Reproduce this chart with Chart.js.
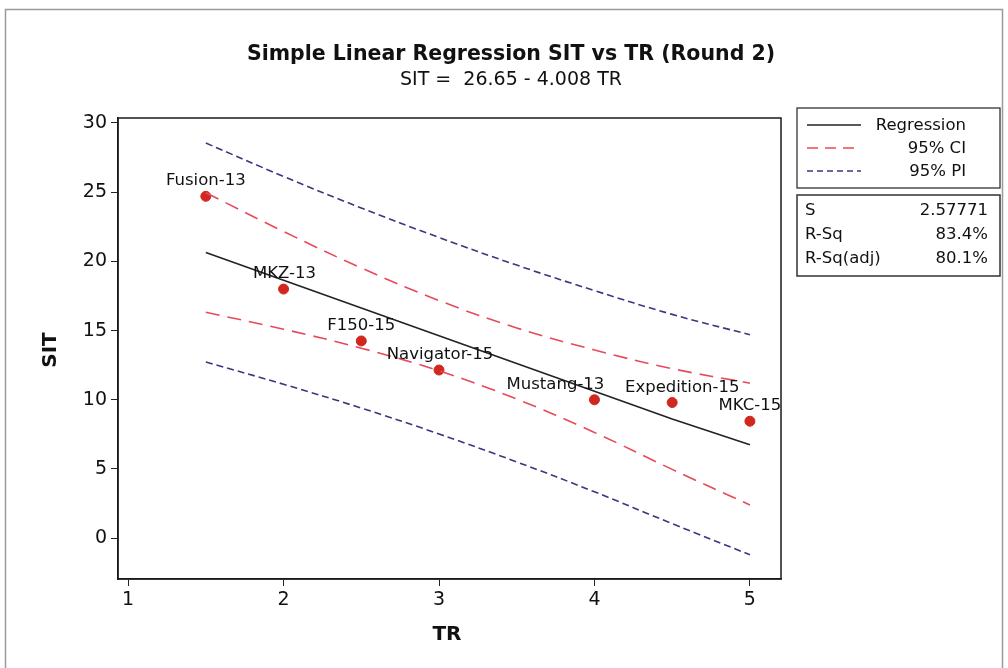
<!DOCTYPE html>
<html>
<head>
<meta charset="utf-8">
<script src="https://cdn.jsdelivr.net/npm/chart.js@4.4.1/dist/chart.umd.min.js"></script>
<style>
  html, body { margin: 0; padding: 0; background: #fff; }
  #wrap { width: 1008px; height: 668px; position: relative; }
</style>
</head>
<body>
<div id="wrap"><canvas id="chart" width="1008" height="668"></canvas></div>
<script>
// observed points
const names = ['Fusion-13', 'MKZ-13', 'F150-15', 'Navigator-15', 'Mustang-13', 'Expedition-15', 'MKC-15'];
const trValues = [1.5, 2, 2.5, 3, 4, 4.5, 5];
const sitValues = [24.7, 18.0, 14.25, 12.15, 10.0, 9.8, 8.45];

// fitted line and bands
const fitX = [1.5, 2, 2.5, 3, 3.5, 4, 4.5, 5];
const regression = [20.64, 18.63, 16.63, 14.63, 12.62, 10.62, 8.61, 6.75];
const ciUpper = [24.96, 22.16, 19.53, 17.17, 15.19, 13.60, 12.25, 11.2];
const ciLower = [16.32, 15.10, 13.73, 12.09, 10.05, 7.64, 4.97, 2.4];
const piUpper = [28.55, 26.14, 23.86, 21.73, 19.73, 17.89, 16.17, 14.7];
const piLower = [12.73, 11.12, 9.40, 7.53, 5.51, 3.35, 1.05, -1.2];

const xTicks = [1, 2, 3, 4, 5];
const yTicks = [0, 5, 10, 15, 20, 25, 30];

const statLabels = ['S', 'R-Sq', 'R-Sq(adj)'];
const statValues = ['2.57771', '83.4%', '80.1%'];

const FONT = '"DejaVu Sans", Verdana, sans-serif';
const CI_COLOR = '#e64a5a';
const PI_COLOR = '#38387e';
const CI_DASH = [14, 8];
const PI_DASH = [7, 4];

// horizontal nudges of the point labels (px)
const labelShift = [0, 1, 0, 1, -39, 10, 0];

function pts(xs, ys) {
  return xs.map((x, i) => ({ x: x, y: ys[i] }));
}

const lineStyle = { showLine: true, pointRadius: 0, fill: false, tension: 0.4, borderWidth: 1.6 };

const decor = {
  id: 'decor',
  afterDraw(chart) {
    const ctx = chart.ctx;
    const a = chart.chartArea;
    const xs = chart.scales.x, ys = chart.scales.y;
    ctx.save();
    // outer frame
    ctx.strokeStyle = '#9a9a9a';
    ctx.lineWidth = 1.5;
    ctx.strokeRect(5.5, 9.5, 997, 700);
    // plot box
    ctx.strokeStyle = '#1a1a1a';
    ctx.lineWidth = 1.5;
    ctx.strokeRect(a.left, a.top, a.right - a.left, a.bottom - a.top);

    // title
    ctx.fillStyle = '#111';
    ctx.textAlign = 'center';
    ctx.textBaseline = 'middle';
    ctx.font = 'bold 20.5px ' + FONT;
    ctx.fillText('Simple Linear Regression SIT vs TR (Round 2)', 511, 55);
    ctx.font = '19px ' + FONT;
    ctx.fillText('SIT =  26.65 - 4.008 TR', 511, 80);

    // axis titles
    ctx.font = 'bold 20px ' + FONT;
    ctx.fillText('TR', 447, 635);
    ctx.save();
    ctx.translate(51, 350);
    ctx.rotate(-Math.PI / 2);
    ctx.fillText('SIT', 0, 0);
    ctx.restore();

    // point labels
    ctx.font = '16.5px ' + FONT;
    ctx.textBaseline = 'bottom';
    names.forEach((n, i) => {
      const px = xs.getPixelForValue(trValues[i]);
      const py = ys.getPixelForValue(sitValues[i]);
      ctx.fillText(n, px + labelShift[i], py - 7);
    });

    // legend box
    const lx = 797, ly = 108, lw = 203;
    ctx.strokeStyle = '#333';
    ctx.lineWidth = 1.3;
    ctx.strokeRect(lx, ly, lw, 80);
    const legItems = [
      ['Regression', '#222', []],
      ['95% CI', CI_COLOR, [11, 7]],
      ['95% PI', PI_COLOR, [6, 4]]
    ];
    ctx.font = '16.5px ' + FONT;
    ctx.textAlign = 'right';
    ctx.textBaseline = 'middle';
    legItems.forEach((it, i) => {
      const y = ly + 17 + i * 23;
      ctx.beginPath();
      ctx.setLineDash(it[2]);
      ctx.strokeStyle = it[1];
      ctx.lineWidth = 1.5;
      ctx.moveTo(lx + 10, y);
      ctx.lineTo(lx + 64, y);
      ctx.stroke();
      ctx.setLineDash([]);
      ctx.fillStyle = '#111';
      ctx.fillText(it[0], lx + 169, y + 1);
    });

    // stats box
    const sy = 195;
    ctx.strokeStyle = '#333';
    ctx.strokeRect(lx, sy, lw, 81);
    statLabels.forEach((s, i) => {
      const y = sy + 16 + i * 24;
      ctx.textAlign = 'left';
      ctx.fillText(s, lx + 8, y);
      ctx.textAlign = 'right';
      ctx.fillText(statValues[i], lx + lw - 12, y);
    });
    ctx.restore();
  }
};

new Chart(document.getElementById('chart'), {
  type: 'scatter',
  data: {
    datasets: [
      Object.assign({ data: pts(fitX, piUpper), borderColor: PI_COLOR, borderDash: PI_DASH }, lineStyle),
      Object.assign({ data: pts(fitX, piLower), borderColor: PI_COLOR, borderDash: PI_DASH }, lineStyle),
      Object.assign({ data: pts(fitX, ciUpper), borderColor: CI_COLOR, borderDash: CI_DASH }, lineStyle),
      Object.assign({ data: pts(fitX, ciLower), borderColor: CI_COLOR, borderDash: CI_DASH }, lineStyle),
      Object.assign({ data: pts(fitX, regression), borderColor: '#222' }, lineStyle, { tension: 0 }),
      {
        data: pts(trValues, sitValues),
        backgroundColor: '#d0281e',
        borderColor: '#d0281e',
        pointRadius: 5,
        showLine: false
      }
    ]
  },
  options: {
    responsive: false,
    animation: false,
    layout: { padding: { left: 0, top: 118, right: 227, bottom: 0 } },
    plugins: { legend: { display: false }, tooltip: { enabled: false }, title: { display: false } },
    scales: {
      x: {
        type: 'linear',
        min: 0.935,
        max: 5.2,
        afterBuildTicks(s) { s.ticks = xTicks.map(v => ({ value: v })); },
        afterFit(s) { s.height = 89; },
        grid: { drawOnChartArea: false, tickLength: 7, color: '#222', tickColor: '#222' },
        border: { color: '#1a1a1a', width: 1.5 },
        ticks: { color: '#111', font: { family: FONT, size: 19 }, padding: 3 },
        title: { display: false }
      },
      y: {
        type: 'linear',
        min: -2.95,
        max: 30.36,
        afterBuildTicks(s) { s.ticks = yTicks.map(v => ({ value: v })); },
        afterFit(s) { s.width = 118; },
        grid: { drawOnChartArea: false, tickLength: 7, color: '#222', tickColor: '#222' },
        border: { color: '#1a1a1a', width: 1.5 },
        ticks: { color: '#111', font: { family: FONT, size: 19 }, padding: 4 },
        title: { display: false }
      }
    }
  },
  plugins: [decor]
});
</script>
</body>
</html>
